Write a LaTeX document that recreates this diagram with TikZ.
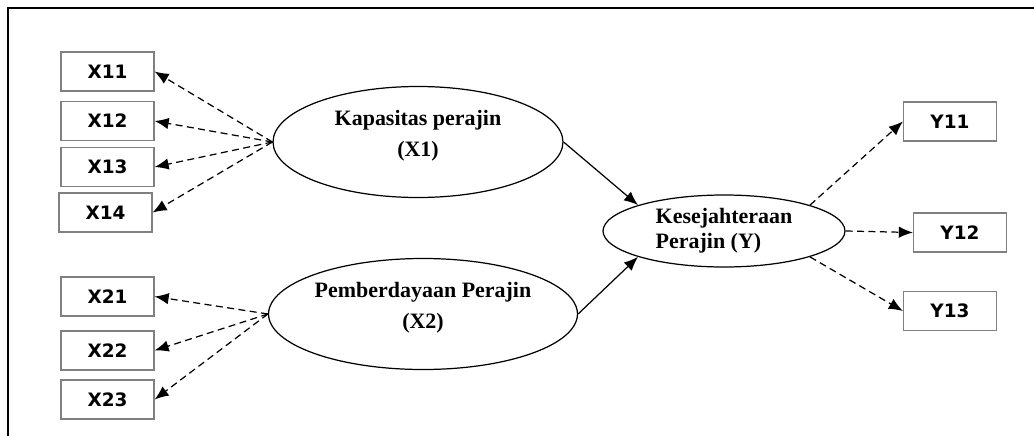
\documentclass[tikz,border=0pt]{standalone}
\usepackage{fontspec}
\setmainfont{Liberation Serif}
\newfontfamily\boxfont{DejaVu Sans}
\usetikzlibrary{shapes.geometric,arrows.meta}

\begin{document}
\begin{tikzpicture}[x=0.02cm,y=-0.02cm]
  \tikzset{ind/.style = {shape=rectangle,draw=black!50,line width=0.7pt,minimum width=1.86cm,minimum height=0.78cm,inner sep=0pt,font=\boxfont\bfseries\fontsize{10.5}{12}\selectfont}}
  \tikzset{lat/.style = {shape=ellipse,draw,line width=0.7pt,inner sep=0pt,align=center,font=\bfseries\fontsize{12.5}{18}\selectfont}}
  \tikzset{load/.style = {dashed,dash pattern=on 4pt off 2.5pt,line width=0.7pt,-{Latex[length=8pt,width=6.5pt]}}}
  \tikzset{path/.style = {line width=0.7pt,-{Latex[length=8pt,width=6.5pt]}}}
  \useasboundingbox (0,0) rectangle (1034,436);
  \draw[line width=1.3pt] (8,436) -- (8,8) -- (1034,8);

	\node[lat,minimum width=5.8cm,minimum height=1.84cm,inner ysep=4pt] (k1) at (418,142) {Kapasitas perajin\\(X1)\\[-8pt]};
	\node[lat,minimum width=6.18cm,minimum height=1.88cm,inner ysep=4pt] (k2) at (423,314) {Pemberdayaan Perajin\\(X2)\\[-8pt]};
	\node[lat,minimum width=4.84cm,minimum height=1.44cm,align=left,font=\bfseries\fontsize{12.5}{14}\selectfont] (ky) at (724,231) {Kesejahteraan\\Perajin (Y)};

	\node[ind] (x11) at (107.5,71.5) {X11};
	\node[ind] (x12) at (107.5,121) {X12};
	\node[ind] (x13) at (107.5,167) {X13};
	\node[ind] (x14) at (105.5,212.5) {X14};
	\node[ind] (x21) at (107.5,296.5) {X21};
	\node[ind] (x22) at (107.5,350.5) {X22};
	\node[ind] (x23) at (107.5,399.5) {X23};
	\node[ind] (y11) at (950,121.5) {Y11};
	\node[ind] (y12) at (960,232.5) {Y12};
	\node[ind] (y13) at (950,311) {Y13};

    \foreach \to in {x11,x12,x13,x14}
    \draw[load] (k1.west) -- (\to.east);
    \foreach \to in {x21,x22,x23}
    \draw[load] (k2.west) -- (\to.east);
    \foreach \from/\to in {north east/y11,east/y12,south east/y13}
    \draw[load] (ky.\from) -- (\to.west);

    \draw[path] (k1.east) -- (ky.north west);
    \draw[path] (k2.east) -- (ky.south west);
\end{tikzpicture}
\end{document}
